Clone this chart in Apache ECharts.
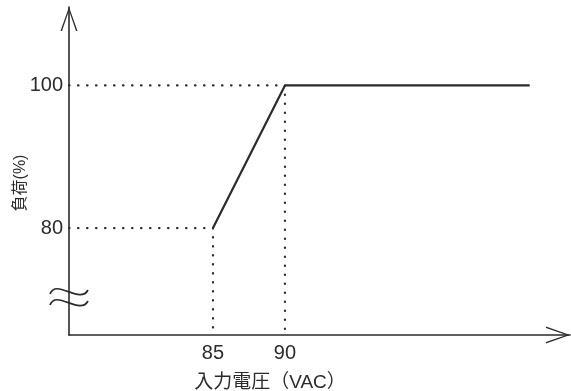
<!DOCTYPE html>
<html>
<head>
<meta charset="utf-8">
<script src="https://cdn.jsdelivr.net/npm/echarts@6/dist/echarts.min.js"></script>
<style>
  html, body { margin: 0; padding: 0; background: #fff; }
  #chart { width: 571px; height: 391px; }
</style>
</head>
<body>
<div id="chart"></div>
<script>
// 入力電圧 vs 負荷 (derating curve)
var voltage = [85, 90, 107];
var load = [80, 100, 100];
var xTicks = [85, 90];
var yTicks = [80, 100];
var xRange = [75, 109.8];
var yRange = [65, 111];

var ink = '#2b2b2b';
var numFont = "'Liberation Sans', Arial, sans-serif";
var jpFont = "'Liberation Sans', 'Noto Sans CJK JP', sans-serif";

// open V arrow (tip at top)
var arrowPath = 'path://M8.5,0 L17,24 L15.5,24 L8.5,3.6 L1.5,24 L0,24 Z';

// dotted guide lines from the two corner points down/left to the axes
var guide100 = [[xRange[0], load[1]], [voltage[1], load[1]], [voltage[1], yRange[0]]];
var guide80 = [[xRange[0], load[0]], [voltage[0], load[0]], [voltage[0], yRange[0]]];

var myChart = echarts.init(document.getElementById('chart'));
var dotted = { color: ink, width: 2.2, type: [0.5, 8.5], cap: 'round' };

myChart.setOption({
  animation: false,
  grid: { left: 69, right: 1, top: 7, bottom: 56 },
  xAxis: {
    type: 'value',
    min: xRange[0],
    max: xRange[1],
    splitLine: { show: false },
    axisTick: { show: false },
    axisLine: {
      lineStyle: { color: ink, width: 1.6 },
      symbol: ['none', arrowPath],
      symbolSize: [17, 25],
      symbolOffset: [0, -12]
    },
    axisLabel: {
      customValues: xTicks,
      color: ink,
      fontFamily: numFont,
      fontSize: 20,
      margin: 8
    }
  },
  yAxis: {
    type: 'value',
    min: yRange[0],
    max: yRange[1],
    splitLine: { show: false },
    axisTick: { show: false },
    axisLine: {
      lineStyle: { color: ink, width: 1.6 },
      symbol: ['none', arrowPath],
      symbolSize: [17, 24],
      symbolOffset: [0, -12]
    },
    axisLabel: {
      customValues: yTicks,
      color: ink,
      fontFamily: numFont,
      fontSize: 20,
      margin: 6
    }
  },
  series: [
    {
      type: 'line',
      data: guide100,
      symbol: 'none',
      lineStyle: dotted,
      silent: true
    },
    {
      type: 'line',
      data: guide80,
      symbol: 'none',
      lineStyle: dotted,
      silent: true
    },
    {
      type: 'line',
      data: voltage.map(function (v, i) { return [v, load[i]]; }),
      symbol: 'none',
      lineStyle: { color: ink, width: 2.2 }
    }
  ],
  graphic: [
    {
      type: 'text',
      x: 21, y: 183,
      rotation: Math.PI / 2,
      style: {
        text: '負荷(%)',
        fill: ink,
        font: '16px ' + jpFont,
        align: 'center',
        verticalAlign: 'middle'
      }
    },
    {
      type: 'text',
      x: 270, y: 383,
      style: {
        text: '入力電圧（VAC）',
        fill: ink,
        font: '19px ' + jpFont,
        align: 'center',
        verticalAlign: 'middle'
      }
    },
    // axis break mark
    {
      type: 'bezierCurve',
      shape: { x1: 50, y1: 294, cpx1: 56, cpy1: 278, cpx2: 80, cpy2: 305, x2: 88, y2: 290 },
      style: { stroke: ink, lineWidth: 1.7, fill: null }
    },
    {
      type: 'bezierCurve',
      shape: { x1: 50, y1: 305, cpx1: 56, cpy1: 289, cpx2: 80, cpy2: 316, x2: 88, y2: 301 },
      style: { stroke: ink, lineWidth: 1.7, fill: null }
    }
  ]
});
</script>
</body>
</html>
